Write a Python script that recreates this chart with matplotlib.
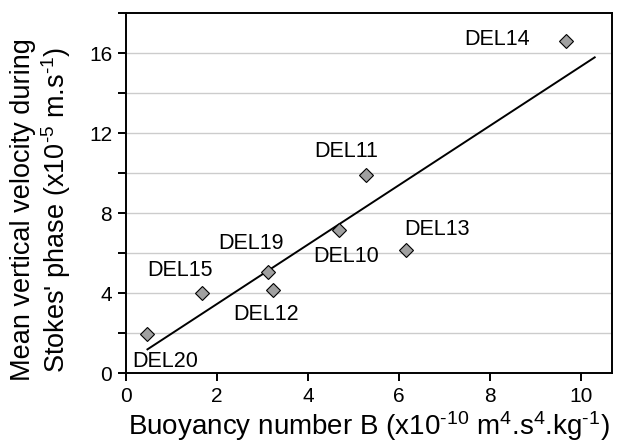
import numpy as np
import matplotlib
matplotlib.use("Agg")
import matplotlib.pyplot as plt

plt.rcParams['font.family'] = ['Liberation Sans', 'DejaVu Sans']
plt.rcParams['mathtext.fontset'] = 'custom'
plt.rcParams['mathtext.rm'] = 'Liberation Sans'
plt.rcParams['mathtext.it'] = 'Liberation Sans'
plt.rcParams['mathtext.default'] = 'regular'

# data
names = ["DEL20", "DEL15", "DEL19", "DEL12", "DEL10", "DEL11", "DEL13", "DEL14"]
buoyancy = [0.47, 1.67, 3.11, 3.23, 4.67, 5.27, 6.15, 9.67]
velocity = [1.95, 4.03, 5.08, 4.18, 7.17, 9.9, 6.17, 16.6]

# regression line end points
fit_x = [0.47, 10.3]
fit_y = [1.2, 15.8]

# label positions (data coords)
label_x = [0.85, 1.19, 2.75, 3.07, 4.83, 4.83, 6.83, 8.16]
label_y = [0.58, 5.13, 6.5, 2.92, 5.83, 11.08, 7.2, 16.67]

fig = plt.figure(figsize=(6.21, 4.45), dpi=100)
ax = fig.add_axes([0.203, 0.161, 0.7825, 0.809])

for yv in np.arange(2, 17, 2):
    ax.axhline(yv, color="#cccccc", linewidth=1.0, zorder=0)

ax.plot(fit_x, fit_y, color="black", linewidth=1.4, zorder=2)
ax.plot(buoyancy, velocity, linestyle="none", marker="D", markersize=6.8,
        markerfacecolor="#a0a0a0", markeredgecolor="black", markeredgewidth=0.8, zorder=3)

for n, lx, ly in zip(names, label_x, label_y):
    ax.text(lx, ly, n, fontsize=15.5, ha="center", va="center")

ax.set_xlim(0, 10.68)
ax.set_ylim(0, 18)
ax.set_xticks([0, 2, 4, 6, 8, 10])
ax.set_yticks(np.arange(0, 19, 2))
ax.set_yticklabels(["0", "", "4", "", "8", "", "12", "", "16", ""])
ax.tick_params(direction="out", length=6, width=1.4, labelsize=15, pad=4)

for s in ax.spines.values():
    s.set_linewidth(1.4)

hy = "\u2010"
ax.set_xlabel("Buoyancy number B (x10$^{" + hy + "10}$ m$^{4}$.s$^{4}$.kg$^{" + hy + "1}$)",
              fontsize=20, labelpad=2)
fig.text(0.037, 0.528, "Mean vertical velocity during", rotation=90, fontsize=19.5,
         ha="center", va="center")
fig.text(0.09, 0.528, "Stokes' phase (x10$^{" + hy + "5}$ m.s$^{" + hy + "1}$)", rotation=90,
         fontsize=19.5, ha="center", va="center")

fig.savefig("out.png", dpi=100)
